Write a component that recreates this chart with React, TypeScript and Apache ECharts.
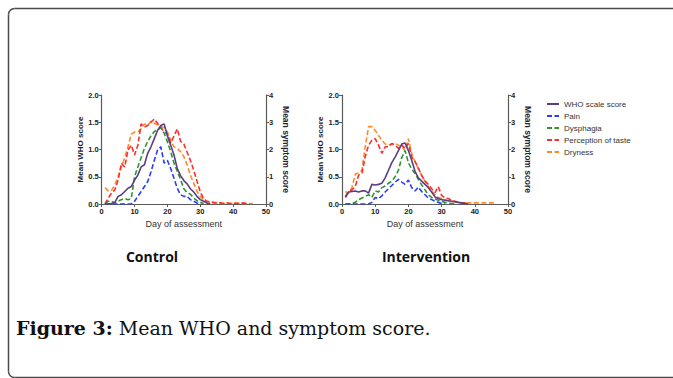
import React, { useEffect, useRef } from "react";
import * as echarts from "echarts";

// Day of first assessment; every series has one value per day from here.
const FIRST_DAY = 1;

const xTicks = ["0", "10", "20", "30", "40", "50"];
const whoTicks = ["0.0", "0.5", "1.0", "1.5", "2.0"];
const symptomTicks = ["0", "1", "2", "3", "4"];

const seriesNames = ["WHO scale score", "Pain", "Dysphagia", "Perception of taste", "Dryness"];
const panelTitles = ["Control", "Intervention"];

// ---- Control (WHO on left axis 0-2, symptoms on right axis 0-4) ----
const ctrlWHO = [0, 0, 0.01, 0.03, 0.14, 0.17, 0.23, 0.29, 0.32, 0.44, 0.53, 0.68, 0.72, 0.93, 1.05, 1.2, 1.35, 1.44, 1.47, 1.25, 1.08, 0.9, 0.65, 0.52, 0.43, 0.37, 0.28, 0.22, 0.14, 0.08, 0.05, 0.02, 0];
const ctrlPain = [0, 0, 0, 0, 0, 0, 0, 0, 0, 0.1, 0.28, 0.46, 0.64, 0.82, 1.18, 1.6, 1.98, 2.1, 1.5, 1.6, 1.3, 0.94, 0.58, 0.34, 0.28, 0.28, 0.16, 0.1, 0.04, 0];
const ctrlDysphagia = [0.02, 0.1, 0.1, 0.04, 0.1, 0.16, 0.2, 0.16, 0.2, 1.0, 1.36, 1.7, 2.04, 2.3, 2.5, 2.66, 2.72, 2.8, 2.6, 2.28, 1.92, 1.5, 1.2, 0.9, 0.56, 0.42, 0.36, 0.22, 0.12, 0.06, 0.02];
const ctrlTaste = [0, 0.22, 0.4, 0.52, 0.88, 1.5, 1.36, 1.98, 2.16, 1.8, 2.16, 2.94, 2.82, 2.88, 3.0, 3.12, 2.96, 2.8, 2.66, 2.56, 2.24, 2.5, 2.76, 2.3, 2.2, 1.9, 1.6, 1.24, 0.84, 0.44, 0.2, 0.1, 0.08, 0.06, 0.04, 0.04, 0.02, 0.04, 0.02, 0.04, 0.02, 0.02, 0.04, 0.02, 0.02];
const ctrlDryness = [0.6, 0.48, 0.5, 0.7, 1.0, 1.36, 1.7, 2.1, 2.56, 2.64, 2.64, 2.76, 2.94, 2.88, 3.04, 2.96, 2.9, 2.84, 2.8, 2.64, 2.34, 2.1, 2.04, 1.92, 1.74, 1.44, 1.06, 0.76, 0.46, 0.28, 0.16, 0.1, 0.06, 0.04, 0.04, 0.04, 0.02, 0.04, 0.02, 0.02, 0.04, 0.02, 0.02, 0.02, 0.02, 0.02];

// ---- Intervention ----
const intWHO = [0.12, 0.22, 0.23, 0.24, 0.22, 0.24, 0.24, 0.2, 0.36, 0.35, 0.36, 0.38, 0.48, 0.62, 0.76, 0.86, 0.98, 1.1, 1.12, 0.98, 0.8, 0.6, 0.48, 0.42, 0.36, 0.3, 0.22, 0.13, 0.1, 0.08, 0.07, 0.06, 0.05, 0.04, 0.03, 0.02, 0.01, 0];
const intPain = [0, 0, 0, 0, 0, 0, 0, 0, 0.06, 0.24, 0.2, 0.3, 0.44, 0.56, 0.68, 0.8, 0.9, 0.8, 0.72, 0.88, 0.6, 0.48, 0.62, 0.46, 0.34, 0.22, 0.16, 0.1, 0.06, 0.02, 0];
const intDysphagia = [0, 0, 0.02, 0.06, 0.16, 0.22, 0.28, 0.34, 0.24, 0.48, 0.44, 0.6, 0.66, 0.76, 0.84, 1.0, 1.24, 1.7, 1.96, 1.52, 1.28, 1.12, 0.9, 0.7, 0.52, 0.34, 0.24, 0.18, 0.14, 0.1, 0.06, 0.04, 0.02, 0];
const intTaste = [0.28, 0.46, 0.52, 0.64, 1.06, 1.12, 1.74, 2.16, 2.34, 2.4, 2.16, 1.86, 2.1, 2.1, 2.22, 2.16, 2.04, 2.16, 2.04, 2.22, 1.72, 1.56, 1.32, 1.04, 0.84, 0.72, 0.56, 0.42, 0.64, 0.32, 0.22, 0.2, 0.14, 0.1, 0.06, 0.04, 0.04, 0.02];
const intDryness = [0.46, 0.4, 0.6, 1.1, 1.14, 1.24, 2.1, 2.84, 2.84, 2.7, 2.52, 2.34, 2.2, 2.16, 2.2, 2.22, 2.16, 2.1, 1.96, 2.4, 1.84, 1.56, 1.3, 1.06, 0.84, 0.64, 0.48, 0.34, 0.24, 0.2, 0.16, 0.12, 0.1, 0.08, 0.06, 0.04, 0.04, 0.04, 0.04, 0.04, 0.04, 0.04, 0.04, 0.04, 0.04, 0.04];

const captionBold = "Figure 3:";
const captionText = " Mean WHO and symptom score.";

const COLORS: Record<string, string> = {
  "WHO scale score": "#5a3f84",
  Pain: "#2f3cf5",
  Dysphagia: "#2e962e",
  "Perception of taste": "#ff2d2d",
  Dryness: "#ff8a2a",
};

const toPairs = (vals: number[]) => vals.map((v, i) => [FIRST_DAY + i, v]);

function mkSeries(name: string, vals: number[], panel: number, onRight: boolean) {
  const dashed = name !== "WHO scale score";
  return {
    name,
    type: "line",
    xAxisIndex: panel,
    yAxisIndex: panel * 2 + (onRight ? 1 : 0),
    data: toPairs(vals),
    symbol: "none",
    showSymbol: false,
    smooth: false,
    lineStyle: {
      color: COLORS[name],
      width: 1.6,
      type: dashed ? [5, 2.5] : "solid",
    },
    itemStyle: { color: COLORS[name] },
    emphasis: { disabled: true },
  };
}

const tickFont = { fontFamily: "Liberation Sans", fontSize: 7.5, fontWeight: "bold", color: "#222" };
const axisLineStyle = { lineStyle: { color: "#5a5a5a", width: 1.2 } };
const frameStyle = { fill: "none", stroke: "#4a4a4a", lineWidth: 1.5 };

export default function App() {
  const ref = useRef<HTMLDivElement>(null);
  useEffect(() => {
    if (!ref.current) return;
    const chart = echarts.init(ref.current, undefined, { renderer: "svg" });
    const grids = [
      { left: 101.7, top: 95, width: 164.3, height: 109 },
      { left: 342, top: 95, width: 166, height: 109 },
    ];
    const xAxes = grids.map((_, i) => ({
      gridIndex: i,
      type: "value",
      min: 0,
      max: 50,
      interval: 10,
      axisLine: { show: true, onZero: false, ...axisLineStyle },
      axisTick: { show: true, length: 3, lineStyle: { color: "#5a5a5a" } },
      splitLine: { show: false },
      axisLabel: { ...tickFont, margin: 3, formatter: (v: number) => xTicks[Math.round(v / 10)] },
      name: "Day of assessment",
      nameLocation: "middle",
      nameGap: 15,
      nameTextStyle: { fontFamily: "Liberation Sans", fontSize: 9, color: "#333" },
    }));
    const yAxes: any[] = [];
    grids.forEach((_, i) => {
      yAxes.push({
        gridIndex: i,
        type: "value",
        position: "left",
        min: 0,
        max: 2,
        interval: 0.5,
        axisLine: { show: true, onZero: false, ...axisLineStyle },
        axisTick: { show: true, length: 3, lineStyle: { color: "#5a5a5a" } },
        splitLine: { show: false },
        axisLabel: { ...tickFont, margin: 3, formatter: (v: number) => whoTicks[Math.round(v * 2)] },
        name: "Mean WHO score",
        nameLocation: "middle",
        nameRotate: 90,
        nameGap: 17,
        nameTextStyle: { fontFamily: "Liberation Sans", fontSize: 8, fontWeight: "bold", color: "#1d2433" },
      });
      yAxes.push({
        gridIndex: i,
        type: "value",
        position: "right",
        min: 0,
        max: 4,
        interval: 1,
        axisLine: { show: true, onZero: false, ...axisLineStyle },
        axisTick: { show: true, length: 3, lineStyle: { color: "#5a5a5a" } },
        splitLine: { show: false },
        axisLabel: { ...tickFont, margin: 3, formatter: (v: number) => symptomTicks[Math.round(v)] },
        name: "Mean symptom score",
        nameLocation: "middle",
        nameRotate: -90,
        nameGap: 15,
        nameTextStyle: { fontFamily: "Liberation Sans", fontSize: 8.5, fontWeight: "bold", color: "#1d2433" },
      });
    });

    const panels = [
      { who: ctrlWHO, pain: ctrlPain, dys: ctrlDysphagia, taste: ctrlTaste, dry: ctrlDryness },
      { who: intWHO, pain: intPain, dys: intDysphagia, taste: intTaste, dry: intDryness },
    ];
    const series: any[] = [];
    panels.forEach((p, i) => {
      series.push(mkSeries("Dryness", p.dry, i, true));
      series.push(mkSeries("Perception of taste", p.taste, i, true));
      series.push(mkSeries("Dysphagia", p.dys, i, true));
      series.push(mkSeries("Pain", p.pain, i, true));
      series.push(mkSeries("WHO scale score", p.who, i, false));
    });

    chart.setOption({
      animation: false,
      textStyle: { fontFamily: "Liberation Sans" },
      grid: grids,
      xAxis: xAxes,
      yAxis: yAxes,
      legend: {
        data: seriesNames,
        orient: "vertical",
        left: 541,
        top: 95,
        itemWidth: 12,
        itemHeight: 8,
        itemGap: 4,
        selectedMode: false,
        itemStyle: { opacity: 0 },
        textStyle: { fontFamily: "Liberation Sans", fontSize: 8, color: "#333" },
      },
      series,
      graphic: [
        { type: "line", silent: true, shape: { x1: 14.5, y1: 8.5, x2: 700, y2: 8.5 }, style: frameStyle },
        { type: "line", silent: true, shape: { x1: 8.5, y1: 14.5, x2: 8.5, y2: 371.5 }, style: frameStyle },
        { type: "line", silent: true, shape: { x1: 14.5, y1: 377.5, x2: 700, y2: 377.5 }, style: frameStyle },
        {
          type: "arc",
          silent: true,
          shape: { cx: 14.5, cy: 14.5, r: 6, startAngle: Math.PI, endAngle: Math.PI * 1.5, clockwise: true },
          style: frameStyle,
        },
        {
          type: "arc",
          silent: true,
          shape: { cx: 14.5, cy: 371.5, r: 6, startAngle: Math.PI / 2, endAngle: Math.PI, clockwise: true },
          style: frameStyle,
        },
        {
          type: "text",
          x: 152,
          y: 256,
          style: {
            text: panelTitles[0],
            font: "bold 14px 'Open Sans'",
            fill: "#111",
            textAlign: "center",
            textVerticalAlign: "middle",
          },
        },
        {
          type: "text",
          x: 426,
          y: 256,
          style: {
            text: panelTitles[1],
            font: "bold 14px 'Open Sans'",
            fill: "#111",
            textAlign: "center",
            textVerticalAlign: "middle",
          },
        },
        {
          type: "text",
          x: 16,
          y: 328,
          style: {
            text: "{b|" + captionBold + "}{r|" + captionText + "}",
            rich: {
              b: { fontFamily: "DejaVu Serif", fontSize: 19, fontWeight: "bold", fill: "#111" },
              r: { fontFamily: "DejaVu Serif", fontSize: 19, fill: "#111" },
            },
            textVerticalAlign: "middle",
          },
        },
      ],
    });
    return () => chart.dispose();
  }, []);
  return (
    <div
      ref={ref}
      style={{ position: "fixed", left: 0, top: 0, width: "673px", height: "378px", background: "#fff" }}
    />
  );
}
